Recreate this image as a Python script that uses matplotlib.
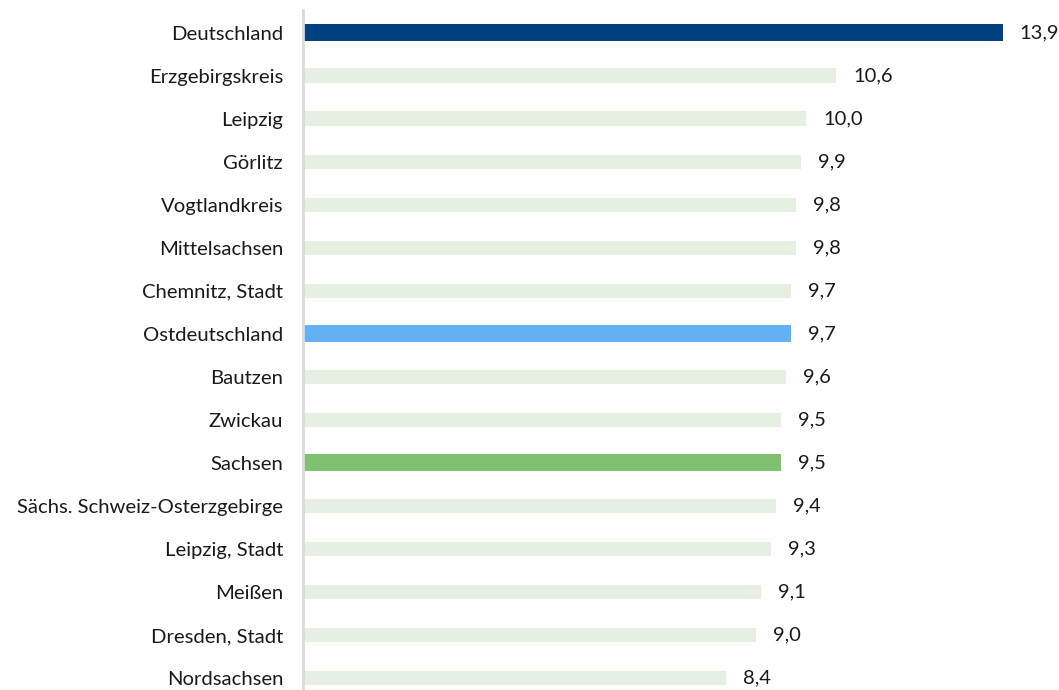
import matplotlib
matplotlib.use("Agg")
import matplotlib.pyplot as plt

categories = ["Deutschland", "Erzgebirgskreis", "Leipzig", "Görlitz", "Vogtlandkreis",
              "Mittelsachsen", "Chemnitz, Stadt", "Ostdeutschland", "Bautzen", "Zwickau",
              "Sachsen", "Sächs. Schweiz-Osterzgebirge", "Leipzig, Stadt", "Meißen",
              "Dresden, Stadt", "Nordsachsen"]
values = [13.9, 10.6, 10.0, 9.9, 9.8, 9.8, 9.7, 9.7, 9.6, 9.5, 9.5, 9.4, 9.3, 9.1, 9.0, 8.4]
labels = ["13,9", "10,6", "10,0", "9,9", "9,8", "9,8", "9,7", "9,7", "9,6", "9,5", "9,5",
          "9,4", "9,3", "9,1", "9,0", "8,4"]
highlight = {"Deutschland": "#02417F", "Ostdeutschland": "#64B0F5", "Sachsen": "#80C071"}
base_color = "#E5F0E3"

plt.rcParams['font.family'] = ['Lato', 'DejaVu Sans']

W, H = 1059, 690
fig = plt.figure(figsize=(W / 100, H / 100), dpi=100)
x0, x1 = 302.5, 1059
y_top, y_bot = 10, 690
ax = fig.add_axes([x0 / W, 1 - y_bot / H, (x1 - x0) / W, (y_bot - y_top) / H])

px_per_unit = 50.36
row = 43.03
ys = list(range(len(categories)))
for i, (c, v, lab) in enumerate(zip(categories, values, labels)):
    col = highlight.get(c, base_color)
    h = 0.40 if c in highlight else 0.33
    ax.barh(i, v, height=h, color=col, linewidth=0)
    ax.text(v + 17 / px_per_unit, i, lab, va="center", ha="left", fontsize=14.5, color="#1a1a1a")

ax.set_xlim(0, (x1 - x0) / px_per_unit)
ax.set_ylim(15 + (690 - 678) / row, -(32.5 - 10) / row)
ax.set_yticks(ys)
ax.set_yticklabels(categories, fontsize=14.6, color="#1a1a1a")
ax.tick_params(axis="y", length=0, pad=14)
ax.set_xticks([])
for s in ["top", "right", "bottom"]:
    ax.spines[s].set_visible(False)
ax.spines["left"].set_color("#D9D9D9")
ax.spines["left"].set_linewidth(2)

fig.savefig("out.png", dpi=100)
